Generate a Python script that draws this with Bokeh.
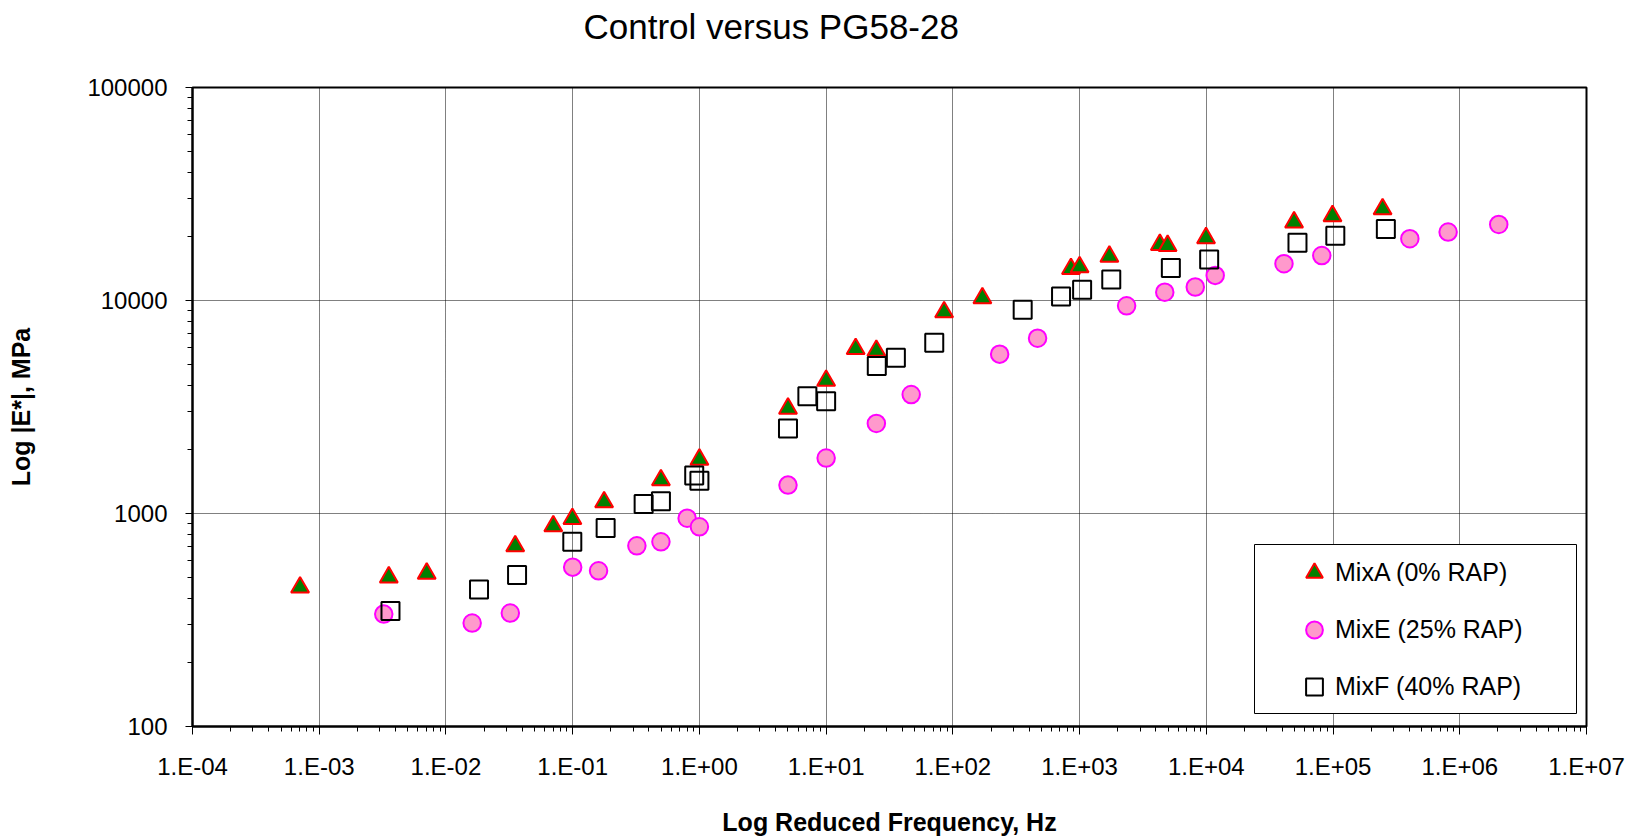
from bokeh.plotting import figure
from bokeh.models import (Range1d, FixedTicker, CustomJSTickFormatter, Legend, LegendItem,
                          BoxAnnotation, Title)
from bokeh.embed import file_html
from bokeh.resources import INLINE

title_text = "Control versus PG58-28"
x_label = "Log Reduced Frequency, Hz"
y_label = "Log |E*|, MPa"
series_names = ["MixA (0% RAP)", "MixE (25% RAP)", "MixF (40% RAP)"]

mixA_freq = [7.06e-4, 3.54e-3, 7.05e-3, 0.0352, 0.0703, 0.0995, 0.177, 0.497, 1.0,
             5.0, 10.0, 17.1, 24.9, 85.3, 171.0, 855.0, 1000.0, 1718.0, 4300.0, 4950.0,
             9950.0, 49250.0, 99000.0, 246000.0]
mixA_modulus = [450, 502, 523, 703, 873, 944, 1131, 1435, 1793,
                3112, 4210, 5931, 5823, 8816, 10260, 14080, 14340, 16100, 18280, 18080,
                19650, 23300, 24940, 26840]

mixE_freq = [3.23e-3, 0.0161, 0.0322, 0.1, 0.160, 0.321, 0.497, 0.80, 1.0,
             5.0, 10.0, 24.9, 46.9, 234.0, 466.0, 2350.0, 4700.0, 8180.0, 11750.0,
             41000.0, 81500.0, 403600.0, 809000.0, 2.03e6]
mixE_modulus = [337, 306, 341, 560, 538, 705, 736, 951, 866,
                1359, 1820, 2648, 3619, 5600, 6654, 9440, 10940, 11570, 13120,
                14890, 16260, 19500, 20950, 22760]

mixF_freq = [3.65e-3, 0.01824, 0.0364, 0.0993, 0.182, 0.363, 0.497, 0.91, 1.0,
             5.0, 7.11, 10.0, 25.1, 35.5, 71.3, 355.6, 714.0, 1047.0, 1778.0,
             5250.0, 10530.0, 52400.0, 104200.0, 261000.0]
mixF_modulus = [349, 440, 514, 736, 854, 1107, 1143, 1508, 1425,
                2507, 3555, 3364, 4923, 5383, 6325, 9042, 10440, 11220, 12560,
                14200, 15570, 18670, 20130, 21690]

x_tick_values = [1e-4, 1e-3, 1e-2, 1e-1, 1e0, 1e1, 1e2, 1e3, 1e4, 1e5, 1e6, 1e7]
x_tick_labels = ["1.E-04", "1.E-03", "1.E-02", "1.E-01", "1.E+00", "1.E+01",
                 "1.E+02", "1.E+03", "1.E+04", "1.E+05", "1.E+06", "1.E+07"]
y_tick_values = [100, 1000, 10000, 100000]
y_tick_labels = ["100", "1000", "10000", "100000"]

FONT = "Liberation Sans"

p = figure(width=1645, height=839, x_axis_type="log", y_axis_type="log",
           x_range=Range1d(x_tick_values[0], x_tick_values[-1]),
           y_range=Range1d(y_tick_values[0], y_tick_values[-1]),
           output_backend="svg", toolbar_location=None,
           min_border_left=192, min_border_right=59,
           min_border_top=87, min_border_bottom=113)

p.background_fill_color = "white"
p.border_fill_color = "white"
p.outline_line_color = "black"
p.outline_line_width = 2

# spacer between frame and title, so the title sits near the top edge
p.add_layout(Title(text=" ", text_font_size="1px", standoff=32), "above")

# chart title (outermost above panel)
p.title.text = title_text
p.title.text_font = FONT
p.title.text_font_size = "35px"
p.title.text_font_style = "normal"
p.title.text_color = "black"
p.title.align = "left"
p.title.offset = 391
p.title.vertical_align = "top"
p.title.standoff = 10

fmt_code = """
let best = 0, bd = Infinity;
for (let i = 0; i < vals.length; i++) {
  const d = Math.abs(Math.log10(vals[i]) - Math.log10(tick));
  if (d < bd) { bd = d; best = i; }
}
return labels[best];
"""

def minor_list(vals):
    out = []
    for v in vals[:-1]:
        for k in range(2, 10):
            out.append(v * k)
    return out

xt = FixedTicker(ticks=x_tick_values, minor_ticks=minor_list(x_tick_values))
yt = FixedTicker(ticks=y_tick_values, minor_ticks=minor_list(y_tick_values))

xa = p.xaxis[0]
ya = p.yaxis[0]
xa.ticker = xt
ya.ticker = yt
xa.formatter = CustomJSTickFormatter(args=dict(vals=x_tick_values, labels=x_tick_labels), code=fmt_code)
ya.formatter = CustomJSTickFormatter(args=dict(vals=y_tick_values, labels=y_tick_labels), code=fmt_code)

for ax in (xa, ya):
    ax.axis_line_color = "black"
    ax.axis_line_width = 2
    ax.major_tick_line_color = "black"
    ax.minor_tick_line_color = "black"
    ax.major_tick_line_width = 1
    ax.minor_tick_line_width = 1
    ax.major_tick_in = 0
    ax.minor_tick_in = 0
    ax.major_label_text_font = FONT
    ax.major_label_text_font_size = "24px"
    ax.major_label_text_color = "black"
    ax.axis_label_text_font = FONT
    ax.axis_label_text_font_size = "25px"
    ax.axis_label_text_font_style = "bold"
    ax.axis_label_text_color = "black"

xa.axis_label = x_label
ya.axis_label = y_label
xa.major_tick_out = 8
xa.minor_tick_out = 5
ya.major_tick_out = 7
ya.minor_tick_out = 5
xa.major_label_standoff = 18
ya.major_label_standoff = 18
xa.axis_label_standoff = 25
ya.axis_label_standoff = 49

for g in (p.xgrid[0], p.ygrid[0]):
    g.grid_line_color = "black"
    g.grid_line_width = 1
    g.grid_line_dash = "1 1"
p.xgrid[0].ticker = xt
p.ygrid[0].ticker = yt

rA = p.scatter(mixA_freq, mixA_modulus, marker="triangle", size=18,
               fill_color="#008000", line_color="#FF0000", line_width=2)
rE = p.scatter(mixE_freq, mixE_modulus, marker="circle", size=17.5,
               fill_color="#FF99CC", line_color="#FF00FF", line_width=2)
rF = p.scatter(mixF_freq, mixF_modulus, marker="square", size=18,
               fill_color=None, line_color="black", line_width=2)

# legend frame
legend_box = BoxAnnotation(left=1062, right=1384, bottom=13, top=182,
                           left_units="screen", right_units="screen",
                           top_units="screen", bottom_units="screen",
                           fill_color="white", fill_alpha=1.0,
                           line_color="black", line_width=1, line_alpha=1.0)
p.add_layout(legend_box)

legend = Legend(items=[LegendItem(label=series_names[0], renderers=[rA]),
                       LegendItem(label=series_names[1], renderers=[rE]),
                       LegendItem(label=series_names[2], renderers=[rF])],
                location=(1101, 17), orientation="vertical",
                glyph_width=42, glyph_height=45, label_standoff=0,
                padding=0, spacing=12,
                label_text_font=FONT, label_text_font_size="25px",
                label_text_color="black",
                border_line_alpha=0.0,
                background_fill_alpha=0.0)
p.add_layout(legend)

open("out.html", "w").write(file_html(p, INLINE))
